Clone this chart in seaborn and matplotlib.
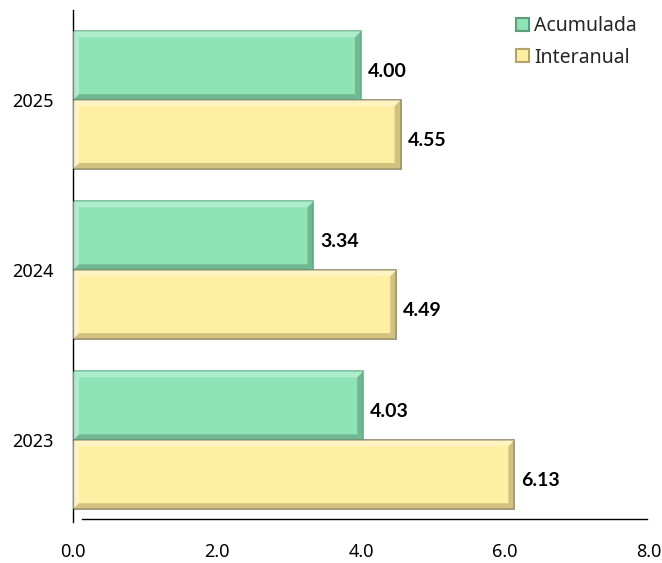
import numpy as np
import pandas as pd
import matplotlib
matplotlib.use("Agg")
import matplotlib.pyplot as plt
import seaborn as sns
from matplotlib.patches import Polygon, Patch

# ================= Data =================
years = ['2025', '2024', '2023']
acumulada = [4.00, 3.34, 4.03]
interanual = [4.55, 4.49, 6.13]
series = ['Acumulada', 'Interanual']
xticks = [0.0, 2.0, 4.0, 6.0, 8.0]

# face, light bevel, dark bevel, outline
styles = {
    'Acumulada': ('#8FE4B6', '#C4F4DA', '#5E9C7B', '#6FB890'),
    'Interanual': ('#FFEFA2', '#FFF9D6', '#B4A46C', '#8E866A'),
}

sns.set_style('white')
plt.rcParams['font.family'] = ['Noto Sans', 'DejaVu Sans']


def add_bevel(ax, patch, face, light, dark, edge, inset_px=6):
    x0, y0 = patch.get_x(), patch.get_y()
    x1, y1 = x0 + patch.get_width(), y0 + patch.get_height()
    p0 = ax.transData.transform((0, 0))
    p1 = ax.transData.transform((1, 1))
    dx = inset_px / abs(p1[0] - p0[0])
    dy = inset_px / abs(p1[1] - p0[1])
    polys = [
        ([(x0, y0), (x1, y0), (x1 - dx, y0 + dy), (x0 + dx, y0 + dy)], light),
        ([(x0, y0), (x0 + dx, y0 + dy), (x0 + dx, y1 - dy), (x0, y1)], light),
        ([(x1, y0), (x1, y1), (x1 - dx, y1 - dy), (x1 - dx, y0 + dy)], dark),
        ([(x0, y1), (x1, y1), (x1 - dx, y1 - dy), (x0 + dx, y1 - dy)], dark),
    ]
    for pts, c in polys:
        ax.add_patch(Polygon(pts, closed=True, facecolor=c, edgecolor='none',
                             alpha=0.6, zorder=3))
    patch.set_facecolor(face)
    patch.set_edgecolor(edge)
    patch.set_linewidth(1.2)
    patch.set_zorder(2)


df = pd.DataFrame({
    'Year': years * 2,
    'Serie': ['Acumulada'] * len(years) + ['Interanual'] * len(years),
    'Value': acumulada + interanual,
})

fig = plt.figure(figsize=(6.62, 5.63), dpi=100)
ax = fig.add_axes([73 / 662, 1 - 522 / 563, 576 / 662, 512 / 563])

sns.barplot(data=df, x='Value', y='Year', hue='Serie', order=years,
            hue_order=series, orient='h', width=0.81, legend=False,
            palette=[styles[s][0] for s in series], ax=ax)

ax.set_xlim(0, 8)
ax.set_ylim(2.48, -0.53)
ax.set_xticks(xticks)
ax.set_xticklabels([f'{t:.1f}' for t in xticks])
ax.set_xlabel(None)
ax.set_ylabel(None)
ax.tick_params(axis='both', labelsize=13, length=0, colors='#000000')
ax.tick_params(axis='x', pad=17)
ax.tick_params(axis='y', pad=14)

for s in ['top', 'right']:
    ax.spines[s].set_visible(False)
ax.spines['left'].set_color('#000000')
ax.spines['left'].set_linewidth(1.0)
ax.spines['bottom'].set_color('#000000')
ax.spines['bottom'].set_linewidth(1.0)
ax.spines['bottom'].set_position(('outward', -2))
ax.spines['bottom'].set_bounds(0.13, 7.97)

bars = [p for p in ax.patches if p.get_width() > 0]
n = len(years)
for i, p in enumerate(bars):
    serie = series[i // n]
    face, light, dark, edge = styles[serie]
    add_bevel(ax, p, face, light, dark, edge)
    val = p.get_width()
    ax.annotate(f'{val:.2f}', (val, p.get_y() + p.get_height() / 2),
                xytext=(7, -6), textcoords='offset pixels',
                ha='left', va='center', fontsize=14, fontweight='bold',
                family=['Lato', 'DejaVu Sans'], color='#000000', zorder=5)

handles = [Patch(facecolor=styles[s][0], edgecolor=styles[s][2], linewidth=1.5)
           for s in series]
fig.legend(handles, series, loc='upper left',
           bbox_to_anchor=(516 / 662, 1 - 16 / 563),
           frameon=False, fontsize=14, handlelength=0.65, handleheight=0.65,
           handletextpad=0.3, labelspacing=0.6, borderaxespad=0, borderpad=0)

fig.savefig('out.png', dpi=100)
